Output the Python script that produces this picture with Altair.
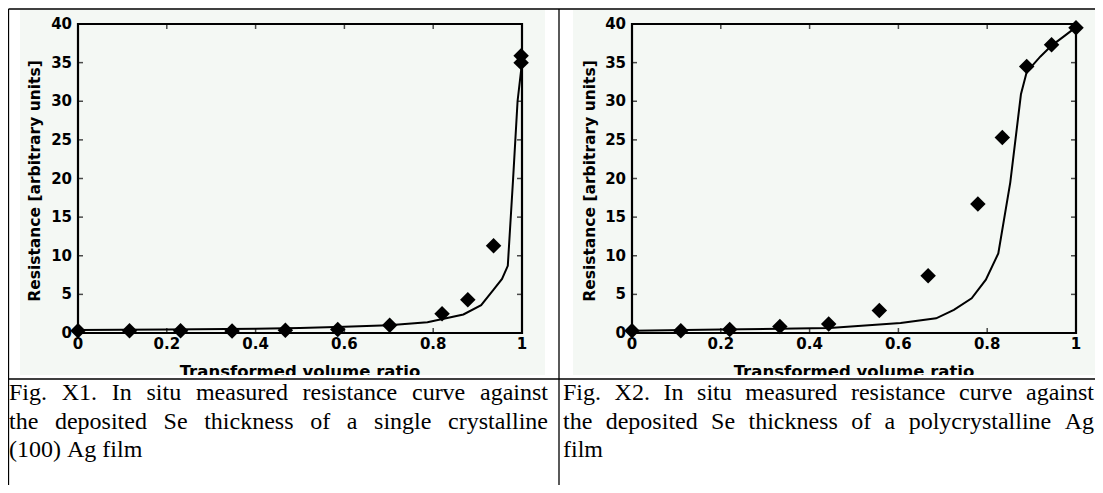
import altair as alt
import pandas as pd

# ---------------- data ----------------
# Fig. X1: single crystalline (100) Ag film
x1_pts = [0.0, 0.116, 0.231, 0.347, 0.467, 0.585, 0.702, 0.820, 0.878, 0.936, 0.998, 0.998]
y1_pts = [0.3, 0.3, 0.3, 0.25, 0.35, 0.45, 1.0, 2.5, 4.3, 11.3, 35.0, 35.9]
x1_fit = [0.0, 0.2, 0.4, 0.5, 0.6, 0.7, 0.787, 0.868, 0.908, 0.936, 0.955, 0.968, 0.98, 0.99, 1.0]
y1_fit = [0.4, 0.45, 0.55, 0.65, 0.8, 1.0, 1.4, 2.4, 3.6, 5.6, 7.0, 8.7, 20.0, 30.0, 35.0]

# Fig. X2: polycrystalline Ag film
x2_pts = [0.0, 0.11, 0.22, 0.333, 0.443, 0.557, 0.667, 0.779, 0.834, 0.889, 0.945, 1.0]
y2_pts = [0.3, 0.3, 0.45, 0.85, 1.15, 2.9, 7.4, 16.7, 25.3, 34.5, 37.3, 39.5]
x2_fit = [0.0, 0.2, 0.445, 0.557, 0.605, 0.685, 0.725, 0.765, 0.797, 0.825, 0.852, 0.876, 0.889, 0.92, 0.945, 0.975, 1.0]
y2_fit = [0.3, 0.45, 0.65, 1.1, 1.3, 1.9, 3.0, 4.5, 6.9, 10.3, 19.5, 30.9, 33.8, 35.8, 37.2, 38.5, 39.6]

x_ticks = [0, 0.2, 0.4, 0.6, 0.8, 1.0]
x_tick_labels = ["0", "0.2", "0.4", "0.6", "0.8", "1"]
y_ticks = [0, 5, 10, 15, 20, 25, 30, 35, 40]
y_tick_labels = ["0", "5", "10", "15", "20", "25", "30", "35", "40"]
x_domain = [0, 1]
y_domain = [0, 40]

x_title = "Transformed volume ratio"
y_title = "Resistance [arbitrary units]"

caption1 = ["Fig. X1. In situ measured resistance curve against",
            "the deposited Se thickness of a single crystalline",
            "(100) Ag film"]
caption2 = ["Fig. X2. In situ measured resistance curve against",
            "the deposited Se thickness of a polycrystalline Ag",
            "film"]

W, H = 1087, 477
FONT = "DejaVu Sans"
BG = "#f4f8f4"
CAP_FONT = "Liberation Serif"
CAP_SIZE = 24

# Times-compatible advance widths (em) used to justify caption lines
TW = {" ": 0.25, ".": 0.25, "(": 0.333, ")": 0.333, "A": 0.722, "F": 0.556, "I": 0.333, "S": 0.556,
      "X": 0.722, "f": 0.333, "i": 0.278, "j": 0.278, "l": 0.278, "r": 0.333, "s": 0.389, "t": 0.278,
      "a": 0.444, "c": 0.444, "e": 0.444, "m": 0.778}


def word_w(w):
    return sum(TW.get(ch, 0.5) for ch in w) * CAP_SIZE


def panel(xp, yp, xf, yf, xrange, bg_x0, bg_x1, yt_x):
    xs = alt.Scale(domain=x_domain, range=xrange, nice=False, zero=False)
    ys = alt.Scale(domain=y_domain, range=[325, 16], nice=False, zero=False)
    X = lambda f: alt.X(f, type="quantitative", scale=xs, axis=None)
    Y = lambda f: alt.Y(f, type="quantitative", scale=ys, axis=None)

    bg = alt.Chart(pd.DataFrame({"a": [0]})).mark_rect(fill=BG).encode(
        x=alt.value(bg_x0), x2=alt.value(bg_x1), y=alt.value(2), y2=alt.value(367))

    frame_df = pd.DataFrame({"x0": [x_domain[0]], "x1": [x_domain[1]],
                             "y0": [y_domain[0]], "y1": [y_domain[1]]})
    frame = alt.Chart(frame_df).mark_rect(fillOpacity=0, stroke="black", strokeWidth=2.2).encode(
        x=X("x0"), x2="x1", y=Y("y0"), y2="y1")

    xt = pd.DataFrame({"v": x_ticks, "lab": x_tick_labels,
                       "ylo": [y_domain[0]] * len(x_ticks), "yhi": [y_domain[1]] * len(x_ticks)})
    yt = pd.DataFrame({"v": y_ticks, "lab": y_tick_labels,
                       "xlo": [x_domain[0]] * len(y_ticks), "xhi": [x_domain[1]] * len(y_ticks)})

    tb = alt.Chart(xt).mark_tick(orient="vertical", size=5, thickness=1.5, yOffset=-2.5, color="black").encode(
        x=X("v"), y=Y("ylo"))
    tt = alt.Chart(xt).mark_tick(orient="vertical", size=5, thickness=1.5, yOffset=2.5, color="black").encode(
        x=X("v"), y=Y("yhi"))
    tl = alt.Chart(yt).mark_tick(orient="horizontal", size=5, thickness=1.5, xOffset=2.5, color="black").encode(
        x=X("xlo"), y=Y("v"))
    tr = alt.Chart(yt).mark_tick(orient="horizontal", size=5, thickness=1.5, xOffset=-2.5, color="black").encode(
        x=X("xhi"), y=Y("v"))

    xl = alt.Chart(xt).mark_text(font=FONT, fontWeight="bold", fontSize=15, baseline="top", dy=4,
                                 color="black").encode(x=X("v"), y=Y("ylo"), text="lab:N")
    yl = alt.Chart(yt).mark_text(font=FONT, fontWeight="bold", fontSize=15, align="right", baseline="middle",
                                 dx=-6, color="black").encode(x=X("xlo"), y=Y("v"), text="lab:N")

    fit = alt.Chart(pd.DataFrame({"x": xf, "y": yf})).mark_line(color="black", strokeWidth=2).encode(
        x=X("x"), y=Y("y"), order="x:Q")
    pts = alt.Chart(pd.DataFrame({"x": xp, "y": yp})).mark_point(
        shape="diamond", filled=True, size=240, color="black", opacity=1).encode(x=X("x"), y=Y("y"))

    xtitle = alt.Chart(pd.DataFrame({"t": [x_title]})).mark_text(
        font=FONT, fontWeight="bold", fontSize=16.5, baseline="top", color="black").encode(
        x=alt.value((xrange[0] + xrange[1]) / 2), y=alt.value(356), text="t:N")
    ytitle = alt.Chart(pd.DataFrame({"t": [y_title]})).mark_text(
        font=FONT, fontWeight="bold", fontSize=15.5, baseline="middle", angle=270, color="black").encode(
        x=alt.value(yt_x), y=alt.value(173), text="t:N")
    cover = alt.Chart(pd.DataFrame({"a": [0]})).mark_rect(fill="white").encode(
        x=alt.value(bg_x0 - 4), x2=alt.value(bg_x1 + 4), y=alt.value(367), y2=alt.value(370))

    return alt.layer(bg, fit, pts, frame, tb, tt, tl, tr, xl, yl, xtitle, ytitle, cover)


left = panel(x1_pts, y1_pts, x1_fit, y1_fit, [70, 514], 12, 537, 27)
right = panel(x2_pts, y2_pts, x2_fit, y2_fit, [624, 1068], 565, 1087, 582)


# table borders
def rule(x0, x1, y0, y1):
    return alt.Chart(pd.DataFrame({"a": [0]})).mark_rule(color="black", strokeWidth=1.3).encode(
        x=alt.value(x0), x2=alt.value(x1), y=alt.value(y0), y2=alt.value(y1))


borders = alt.layer(
    rule(0.5, 1087, 1, 1),
    rule(0.5, 0.5, 1, 477),
    rule(551, 551, 1, 477),
    rule(0.5, 1087, 371, 371),
)


def caption(lines, x0, x1):
    rows = []
    for i, line in enumerate(lines):
        words = line.split(" ")
        widths = [word_w(w) for w in words]
        last = i == len(lines) - 1
        if last or len(words) == 1:
            gap = word_w(" ")
        else:
            gap = (x1 - x0 - sum(widths)) / (len(words) - 1)
        pos = x0
        for w, ww in zip(words, widths):
            rows.append({"t": w, "px": pos, "py": 385 + 28.5 * i})
            pos += ww + gap
    df = pd.DataFrame(rows)
    ident_x = alt.Scale(domain=[0, W], range=[0, W])
    ident_y = alt.Scale(domain=[0, H], range=[0, H])
    return alt.Chart(df).mark_text(font=CAP_FONT, fontSize=CAP_SIZE, align="left", baseline="middle",
                                   color="black").encode(
        x=alt.X("px:Q", scale=ident_x, axis=None),
        y=alt.Y("py:Q", scale=ident_y, axis=None),
        text="t:N")


cap1 = caption(caption1, 1, 540)
cap2 = caption(caption2, 555, 1086)

chart = alt.layer(left, right, borders, cap1, cap2).resolve_scale(
    x="independent", y="independent"
).properties(
    width=W, height=H, padding=0, autosize=alt.AutoSizeParams(type="none"),
    background="white"
).configure_view(stroke=None)

chart.save("out.html", embed_options={"renderer": "svg", "actions": False})
